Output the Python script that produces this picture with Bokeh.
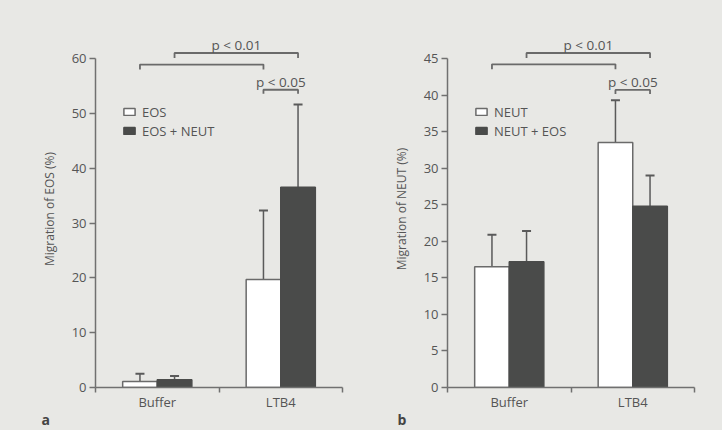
from bokeh.plotting import figure
from bokeh.models import (ColumnDataSource, Range1d, FixedTicker, Whisker, TeeHead,
                          Legend, LegendItem, Title)
from bokeh.layouts import row
from bokeh.embed import file_html
from bokeh.resources import INLINE
from bokeh.core.properties import value

# ---------------- data ----------------
groups = ["Buffer", "LTB4"]

a_series = ["EOS", "EOS + NEUT"]
a_mean_eos = [1.1, 19.7]
a_sd_eos = [1.4, 12.6]
a_mean_mix = [1.4, 36.5]
a_sd_mix = [0.7, 15.1]
a_yticks = [0, 10, 20, 30, 40, 50, 60]
a_ylabel = "Migration of EOS (%)"

b_series = ["NEUT", "NEUT + EOS"]
b_mean_neut = [16.5, 33.5]
b_sd_neut = [4.4, 5.8]
b_mean_mix = [17.2, 24.8]
b_sd_mix = [4.2, 4.2]
b_yticks = [0, 5, 10, 15, 20, 25, 30, 35, 40, 45]
b_ylabel = "Migration of NEUT (%)"

# brackets: bar index (0 Buffer-s1, 1 Buffer-s2, 2 LTB4-s1, 3 LTB4-s2)
br_from = [0, 1, 2]
br_to = [2, 3, 3]
br_labels = ["", "p < 0.01", "p < 0.05"]
a_br_y = [58.9, 61.0, 54.3]
b_br_y = [44.2, 45.75, 40.7]

# ---------------- style ----------------
BG = "#e8e8e5"
DARK = "#4a4b4a"
AXIS = "#707070"
TXT = "#555555"
FONT = "Open Sans"

FIG_W, FIG_H = 361, 430
FRAME_W, FRAME_H = 247, 357
TOP, BOTTOM = 30, 43
BAR_W = 0.28
OFFSET = 0.14


def panel(letter, series, m1, s1, m2, s2, yticks, ylabel, br_y, left, letter_off):
    ymax_axis = yticks[-1]
    px_per_unit = 329.0 / ymax_axis
    ytop = FRAME_H / px_per_unit
    p = figure(width=FIG_W, height=FIG_H, output_backend="svg", toolbar_location=None,
               x_range=Range1d(0, 2), y_range=Range1d(0, ytop),
               min_border_left=left, min_border_right=FIG_W - left - FRAME_W,
               min_border_top=TOP, min_border_bottom=BOTTOM)
    p.background_fill_color = BG
    p.border_fill_color = BG
    p.outline_line_color = None
    p.grid.visible = False

    centers = [i + 0.5 for i in range(len(groups))]
    x1 = [c - OFFSET for c in centers]
    x2 = [c + OFFSET for c in centers]
    src1 = ColumnDataSource(dict(x=x1, top=m1, up=[m + s for m, s in zip(m1, s1)]))
    src2 = ColumnDataSource(dict(x=x2, top=m2, up=[m + s for m, s in zip(m2, s2)]))

    for src in (src1, src2):
        w = Whisker(source=src, base="x", lower="top", upper="up",
                    line_color="#5a5a5a", line_width=1.5,
                    upper_head=TeeHead(size=9, line_color="#5a5a5a", line_width=2),
                    lower_head=None)
        p.add_layout(w)

    r1 = p.vbar(x="x", top="top", width=BAR_W, source=src1, fill_color="white",
                line_color="#6a6a6a", line_width=1.5)
    r2 = p.vbar(x="x", top="top", width=BAR_W, source=src2, fill_color=DARK,
                line_color=DARK, line_width=1.5)

    # axes
    yax = p.yaxis[0]
    yax.ticker = FixedTicker(ticks=yticks)
    yax.bounds = (0, ymax_axis)
    yax.axis_label = ylabel
    yax.axis_label_text_font = FONT
    yax.axis_label_text_font_size = "12px"
    yax.axis_label_text_font_style = "normal"
    yax.axis_label_text_color = TXT
    yax.axis_label_standoff = 11
    yax.major_label_text_font = FONT
    yax.major_label_text_font_size = "13px"
    yax.major_label_text_color = TXT
    yax.major_label_standoff = 3
    yax.major_tick_in = 0
    yax.major_tick_out = 6

    xax = p.xaxis[0]
    xax.ticker = FixedTicker(ticks=centers, minor_ticks=[0, 1, 2])
    xax.major_label_overrides = {c: g for c, g in zip(centers, groups)}
    xax.major_tick_in = 0
    xax.major_tick_out = 0
    xax.minor_tick_in = 0
    xax.minor_tick_out = 5
    xax.major_label_text_font = FONT
    xax.major_label_text_font_size = "13px"
    xax.major_label_text_color = TXT
    xax.major_label_standoff = 0

    for ax in (xax, yax):
        ax.axis_line_color = AXIS
        ax.axis_line_width = 1.5
        ax.major_tick_line_color = AXIS if ax is yax else None
        ax.major_tick_line_width = 1.5
        ax.minor_tick_line_color = AXIS if ax is xax else None
        ax.minor_tick_line_width = 1.5

    # brackets
    bar_x = [x1[0], x2[0], x1[1], x2[1]]
    xs, ys, tx, ty, tl = [], [], [], [], []
    for f, t, y, lab in zip(br_from, br_to, br_y, br_labels):
        d = (5.0 if lab != "p < 0.05" else 4.0) / px_per_unit
        xs.append([bar_x[f], bar_x[f], bar_x[t], bar_x[t]])
        ys.append([y - d, y, y, y - d])
        if lab:
            tx.append((bar_x[f] + bar_x[t]) / 2)
            ty.append(y)
            tl.append(lab)
    p.multi_line(xs, ys, line_color="#6a6a6a", line_width=1.8)
    p.text(x=tx, y=ty, text=tl, text_align="center", text_baseline="alphabetic",
           y_offset=-8, text_font=value(FONT), text_font_size="13.5px", text_color=TXT)

    legend = Legend(items=[LegendItem(label=series[0], renderers=[r1]),
                           LegendItem(label=series[1], renderers=[r2])],
                    location=(27, 247), orientation="vertical",
                    glyph_width=14, glyph_height=9, label_height=19, spacing=0,
                    padding=0, margin=0, label_standoff=6,
                    label_text_font=FONT, label_text_font_size="13px",
                    label_text_color=TXT, border_line_color=None,
                    background_fill_alpha=0)
    p.add_layout(legend, "center")

    t = Title(text=letter, align="left", offset=letter_off, standoff=-31,
              text_font=FONT, text_font_size="14px", text_font_style="bold",
              text_color="#444444")
    p.add_layout(t, "below")
    return p


pa = panel("a", a_series, a_mean_eos, a_sd_eos, a_mean_mix, a_sd_mix,
           a_yticks, a_ylabel, a_br_y, 95, -54)
pb = panel("b", b_series, b_mean_neut, b_sd_neut, b_mean_mix, b_sd_mix,
           b_yticks, b_ylabel, b_br_y, 86, -50)

layout = row(pa, pb, spacing=0, styles={"background-color": BG})
open("out.html", "w").write(file_html(layout, INLINE))
